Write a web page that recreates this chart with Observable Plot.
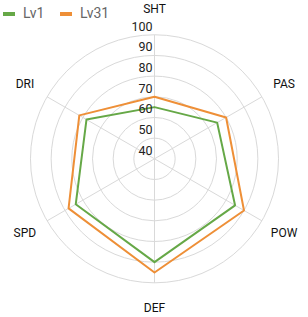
<!DOCTYPE html>
<html>
<head>
<meta charset="utf-8">
<script src="https://cdn.jsdelivr.net/npm/d3@7"></script>
<script src="https://cdn.jsdelivr.net/npm/@observablehq/plot@0.6"></script>
<style>
  html, body { margin: 0; padding: 0; background: #fff; }
  #wrap { position: relative; width: 308px; height: 317px; font-family: Roboto, "Noto Sans", sans-serif; }
  #legend { position: absolute; left: 0; top: 0; width: 308px; height: 24px; }
  .sw { position: absolute; top: 12px; width: 12px; height: 4px; }
  .lt { position: absolute; top: 5px; font-size: 14px; line-height: 16px; color: #666; }
</style>
</head>
<body>
<div id="wrap"><div id="chart"></div><div id="legend"></div></div>
<script>
const axes = ["SHT", "PAS", "POW", "DEF", "SPD", "DRI"];
const lv1 = [65, 75, 85, 90, 84, 78];
const lv31 = [70, 80, 90, 95, 88, 82];
const ticks = [40, 50, 60, 70, 80, 90, 100];
const seriesNames = ["Lv1", "Lv31"];
const seriesColors = ["#66a847", "#ee8f37"];

const minV = 40, maxV = 100;
const k = 308 / 149; // px per unit
const labelR = 72.4;

const ang = i => i * Math.PI * 2 / axes.length;
const pts = [];
[lv1, lv31].forEach((vals, s) => vals.forEach((v, i) => pts.push({
  series: seriesNames[s], axis: axes[i],
  x: (v - minV) * Math.sin(ang(i)), y: (v - minV) * Math.cos(ang(i))
})));
const spokes = axes.map((a, i) => ({
  axis: a,
  x2: (maxV - minV) * Math.sin(ang(i)), y2: (maxV - minV) * Math.cos(ang(i)),
  lx: labelR * Math.sin(ang(i)), ly: labelR * Math.cos(ang(i))
}));
const rings = ticks.filter(t => t > minV).map(t => ({ v: t, r: t - minV }));
const tickLabels = ticks.map(t => ({ v: t, y: t - minV }));

const chart = Plot.plot({
  width: 308, height: 317,
  margin: 0,
  style: { fontFamily: "Roboto, 'Noto Sans', sans-serif", background: "transparent" },
  x: { domain: [-154 / k, 154 / k], range: [0, 308], axis: null },
  y: { domain: [-158.7 / k, 158.3 / k], range: [317, 0], axis: null },
  r: { type: "linear", domain: [0, maxV - minV], range: [0, (maxV - minV) * k] },
  color: { domain: seriesNames, range: seriesColors },
  marks: [
    Plot.dot(rings, { x: () => 0, y: () => 0, r: "r", stroke: "#d9d9d9", strokeWidth: 1, fill: "none" }),
    Plot.link(spokes, { x1: () => 0, y1: () => 0, x2: "x2", y2: "y2", stroke: "#d9d9d9", strokeWidth: 1 }),
    Plot.line(pts, { x: "x", y: "y", z: "series", stroke: "series", strokeWidth: 2, curve: "linear-closed" }),
    Plot.text(tickLabels, { x: () => 0, y: "y", text: d => String(d.v), textAnchor: "end", dx: -2, dy: -8, fontSize: 12.5, fill: "#222" }),
    Plot.text(spokes, { x: "lx", y: "ly", text: "axis", fontSize: 12, fill: "#111" })
  ]
});
document.getElementById("chart").appendChild(chart);

const legend = document.getElementById("legend");
const swLeft = [3, 60], txLeft = [23, 80];
seriesNames.forEach((n, i) => {
  const sw = document.createElement("span");
  sw.className = "sw"; sw.style.left = swLeft[i] + "px"; sw.style.background = seriesColors[i];
  const tx = document.createElement("span");
  tx.className = "lt"; tx.style.left = txLeft[i] + "px"; tx.textContent = n;
  legend.appendChild(sw); legend.appendChild(tx);
});
</script>
</body>
</html>
